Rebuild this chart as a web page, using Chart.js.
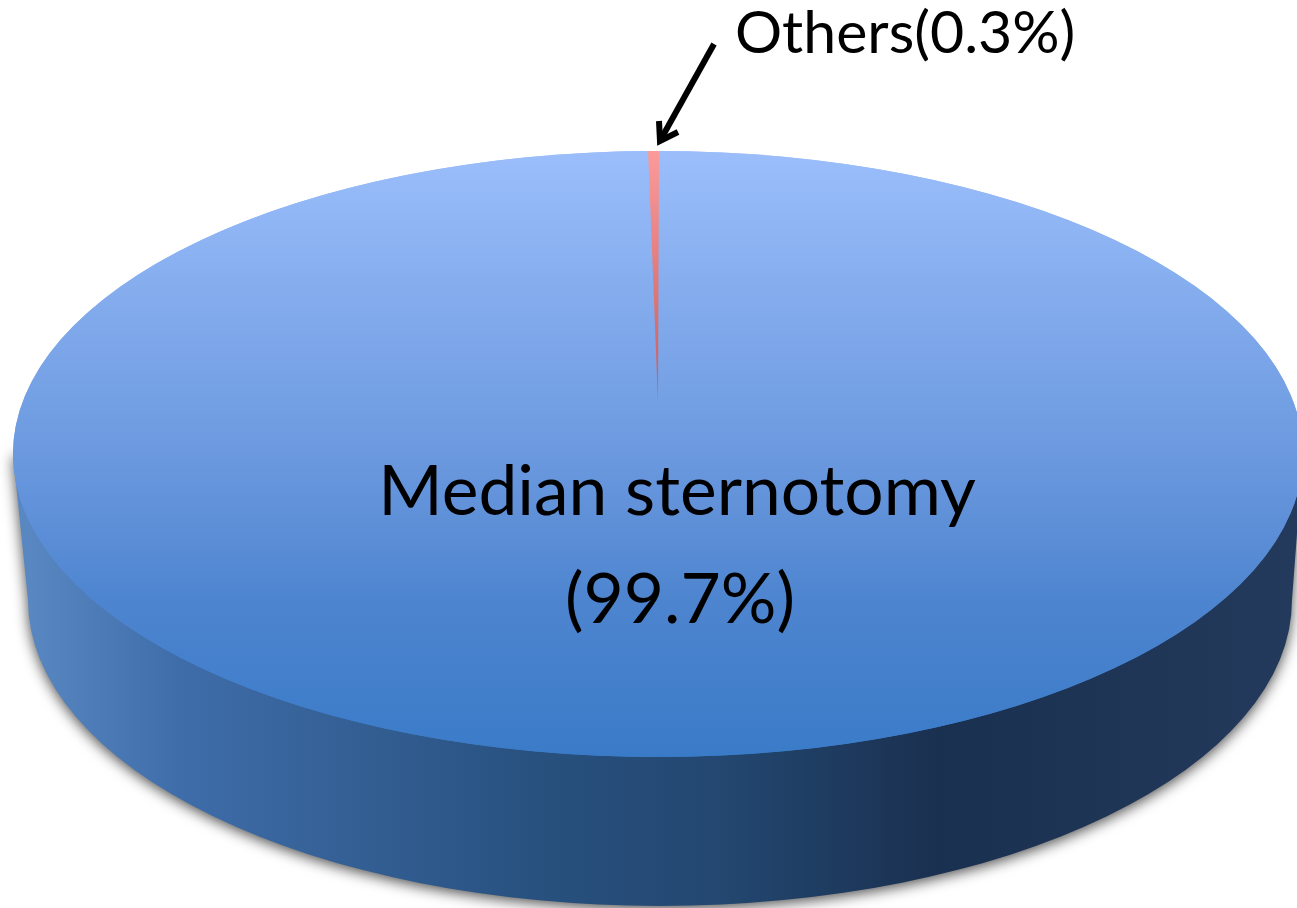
<!DOCTYPE html>
<html>
<head>
<meta charset="utf-8">
<title>Surgical approach</title>
<script src="https://cdn.jsdelivr.net/npm/chart.js@4"></script>
<style>
  body { margin: 0; background: #fff; }
  canvas { display: block; }
</style>
</head>
<body>
<canvas id="pie" width="1297" height="908"></canvas>
<script>
"use strict";

// chart data
const categories = ["Others", "Median sternotomy"];
const shares = [0.3, 99.7];

// look of the tilted pie
const pieRadius = 645;
const topTilt = 303 / pieRadius;
const sliceApex = { x: 658, y: 402 };
const sliceTopY = 151;
const sliceNarrow = 0.9;
const rimBottom = { x: 660, y: 600, rx: 632, ry: 306 };
const fontName = "Lato, 'Open Sans', sans-serif";

const topGradient = function (chart, radius) {
  const cy = chart.height / 2;
  const g = chart.ctx.createLinearGradient(0, cy - radius, 0, cy + radius);
  g.addColorStop(0, "#9bbefb");
  g.addColorStop(0.5, "#6b99df");
  g.addColorStop(0.75, "#4d84cf");
  g.addColorStop(1, "#3a7bc8");
  return g;
};

const sliceGradient = function (chart, radius) {
  const cy = chart.height / 2;
  const g = chart.ctx.createLinearGradient(0, cy - radius, 0, cy);
  g.addColorStop(0, "#fc9a9a");
  g.addColorStop(1, "#c45c5e");
  return g;
};

// side wall of the disc, with the soft shadow underneath
const drawWall = function (ctx, cx, cy, rx) {
  const wall = ctx.createLinearGradient(rimBottom.x - rimBottom.rx, 0, rimBottom.x + rimBottom.rx, 0);
  wall.addColorStop(0, "#5987c2");
  wall.addColorStop(0.12, "#3f6da9");
  wall.addColorStop(0.4, "#28517f");
  wall.addColorStop(0.55, "#234770");
  wall.addColorStop(0.72, "#1a3050");
  wall.addColorStop(1, "#243a5c");

  ctx.save();
  ctx.shadowColor = "rgba(0,0,0,0.7)";
  ctx.shadowBlur = 14;
  ctx.shadowOffsetX = 0;
  ctx.shadowOffsetY = 3;
  ctx.fillStyle = wall;
  ctx.beginPath();
  ctx.moveTo(cx - rx, cy);
  ctx.lineTo(rimBottom.x - rimBottom.rx, rimBottom.y);
  ctx.ellipse(rimBottom.x, rimBottom.y, rimBottom.rx, rimBottom.ry, 0, Math.PI, 0, true);
  ctx.lineTo(cx + rx, cy);
  ctx.closePath();
  ctx.fill();
  ctx.restore();
};

const drawArrow = function (ctx) {
  ctx.save();
  ctx.strokeStyle = "#000";
  ctx.lineWidth = 6;
  ctx.lineJoin = "miter";
  ctx.beginPath();
  ctx.moveTo(714, 44);
  ctx.lineTo(661, 139);
  ctx.stroke();
  ctx.beginPath();
  ctx.moveTo(659, 121);
  ctx.lineTo(660, 141);
  ctx.lineTo(678, 132);
  ctx.stroke();
  ctx.restore();
};

const drawLabels = function (ctx) {
  ctx.save();
  ctx.fillStyle = "#000";
  ctx.textBaseline = "alphabetic";
  ctx.font = "59px " + fontName;
  ctx.textAlign = "left";
  ctx.fillText(categories[0] + "(" + shares[0] + "%)", 735, 53);
  ctx.font = "69.5px " + fontName;
  ctx.textAlign = "center";
  ctx.fillText(categories[1], 677, 515);
  ctx.fillText("(" + shares[1] + "%)", 680, 623);
  ctx.restore();
};

// draws the pie arcs squashed, the thin slice has its own apex like in the 3d picture
const tiltedPie = {
  id: "tiltedPie",
  beforeDatasetDraw(chart, args) {
    const ctx = chart.ctx;
    const arcs = args.meta.data;
    const other = arcs[0];
    const main = arcs[1];
    const r = main.outerRadius;

    drawWall(ctx, main.x, main.y, r);

    ctx.save();
    ctx.translate(0, main.y);
    ctx.scale(1, topTilt);
    ctx.translate(0, -main.y);
    ctx.fillStyle = main.options.backgroundColor;
    ctx.beginPath();
    ctx.arc(main.x, main.y, r, 0, Math.PI * 2);
    ctx.fill();
    main.draw(ctx);
    ctx.restore();

    ctx.save();
    ctx.translate(sliceApex.x, sliceApex.y);
    ctx.scale(sliceNarrow, (sliceApex.y - sliceTopY) / r);
    ctx.translate(-other.x, -other.y);
    other.draw(ctx);
    ctx.restore();

    return false;
  },
  afterDraw(chart) {
    drawArrow(chart.ctx);
    drawLabels(chart.ctx);
  },
};

new Chart(document.getElementById("pie"), {
  type: "pie",
  data: {
    labels: categories,
    datasets: [
      {
        data: shares,
        borderWidth: 0,
        clip: false,
        backgroundColor: function (c) {
          return c.dataIndex === 0 ? sliceGradient(c.chart, pieRadius) : topGradient(c.chart, pieRadius);
        },
      },
    ],
  },
  options: {
    responsive: false,
    animation: false,
    radius: pieRadius,
    rotation: -0.98,
    layout: { padding: { left: 19 } },
    plugins: {
      legend: { display: false },
      tooltip: { enabled: false },
    },
  },
  plugins: [tiltedPie],
});
</script>
</body>
</html>
